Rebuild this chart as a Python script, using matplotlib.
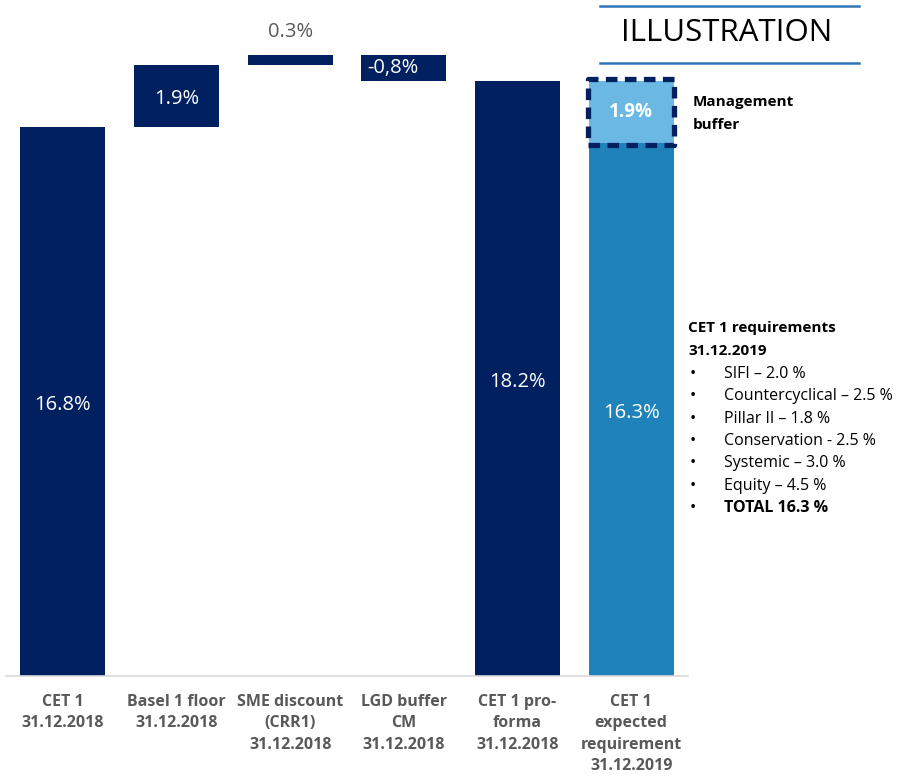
import matplotlib.pyplot as plt
from matplotlib.patches import Rectangle
import numpy as np

plt.rcParams['font.family'] = ['Open Sans', 'DejaVu Sans']

# waterfall steps (percent of RWA)
categories = ['CET 1\n31.12.2018', 'Basel 1 floor\n31.12.2018', 'SME discount\n(CRR1)\n31.12.2018',
              'LGD buffer\nCM\n31.12.2018', 'CET 1 pro-\nforma\n31.12.2018',
              'CET 1\nexpected\nrequirement\n31.12.2019']
steps = [16.8, 1.9, 0.3, -0.8]
proforma = 18.2
requirement = 16.3
mgmt_buffer = 1.9
step_labels = ['16.8%', '1.9%', '0.3%', '-0,8%']

req_items = ['SIFI – 2.0 %', 'Countercyclical – 2.5 %', 'Pillar II – 1.8 %',
             'Conservation - 2.5 %', 'Systemic – 3.0 %', 'Equity – 4.5 %', 'TOTAL 16.3 %']

NAVY = '#002060'
MID_BLUE = '#1F82BA'
LIGHT_BLUE = '#6BB8E4'
GREY = '#595959'

fig = plt.figure(figsize=(8.99, 7.77), dpi=100)
ax = fig.add_axes([6 / 899, 1 - 676 / 777, 682 / 899, 676 / 777])

x = np.arange(len(categories))
width = 0.75

# running totals for the floating bars
ends = np.cumsum(steps)
starts = ends - np.array(steps)
bottoms = np.minimum(starts, ends)
heights = np.abs(steps)

ax.bar(x[:4], heights, bottom=bottoms, width=width, color=NAVY)
ax.bar(x[4], proforma, width=width, color=NAVY)
ax.bar(x[5], requirement, width=width, color=MID_BLUE)
ax.bar(x[5], mgmt_buffer, bottom=requirement, width=width, color=LIGHT_BLUE)

# dashed outline around the management buffer
ax.add_patch(Rectangle((x[5] - width / 2 - 0.005, requirement - 0.05), width + 0.01, mgmt_buffer + 0.1,
                       fill=False, edgecolor=NAVY, linewidth=3.8, linestyle=(0, (2.2, 1.4)),
                       joinstyle='round', zorder=5))

# value labels (small downward nudge to sit optically centred)
dy = -0.12
for i in range(4):
    if i == 2:
        ax.text(x[i], ends[i] + 0.68, step_labels[i], ha='center', va='center', color=GREY, fontsize=14.5)
    else:
        xoff = -0.1 if i == 3 else 0
        ax.text(x[i] + xoff, bottoms[i] + heights[i] / 2 + (dy if i != 3 else 0), step_labels[i],
                ha='center', va='center', color='white', fontsize=14.5)
ax.text(x[4], proforma / 2 + dy, f'{proforma}%', ha='center', va='center', color='white', fontsize=14.5)
ax.text(x[5], requirement / 2 + dy, f'{requirement}%', ha='center', va='center', color='white', fontsize=14.5)
ax.text(x[5], requirement + mgmt_buffer / 2, f'{mgmt_buffer}%', ha='center', va='center',
        color='white', fontsize=13.5, fontweight='bold', zorder=6)

ax.set_xlim(-0.5, len(categories) - 0.5)
ax.set_ylim(0, 676 / 32.7)
for side in ['top', 'right', 'left']:
    ax.spines[side].set_visible(False)
ax.spines['bottom'].set_color('#d9d9d9')
ax.spines['bottom'].set_linewidth(1.2)
ax.set_yticks([])
ax.set_xticks(x)
ax.set_xticklabels(categories, fontsize=11.5, fontweight='bold', color=GREY, linespacing=1.45)
ax.tick_params(axis='x', length=0, pad=13)

# side annotations
fig.text(693 / 899, 1 - 102 / 777, 'Management', fontsize=11, fontweight='bold', va='center')
fig.text(693 / 899, 1 - 125 / 777, 'buffer', fontsize=11, fontweight='bold', va='center')
fig.text(688 / 899, 1 - 328 / 777, 'CET 1 requirements', fontsize=11, fontweight='bold', va='center')
fig.text(688 / 899, 1 - 351 / 777, '31.12.2019', fontsize=11, fontweight='bold', va='center')
for k, item in enumerate(req_items):
    yy = 1 - (374 + k * 22.3) / 777
    fig.text(690 / 899, yy, '•', fontsize=12, va='center')
    fig.text(724 / 899, yy, item, fontsize=11.5, va='center',
             fontweight='bold' if item.startswith('TOTAL') else 'normal')

# header box
fig.add_artist(plt.Line2D([600 / 899, 859 / 899], [1 - 6 / 777, 1 - 6 / 777], color='#2E75B6', linewidth=1.8))
fig.add_artist(plt.Line2D([600 / 899, 859 / 899], [1 - 63 / 777, 1 - 63 / 777], color='#2E75B6', linewidth=1.8))
fig.text(727 / 899, 1 - 33 / 777, 'ILLUSTRATION', fontsize=22.5, ha='center', va='center')

fig.savefig('out.png', dpi=100)
